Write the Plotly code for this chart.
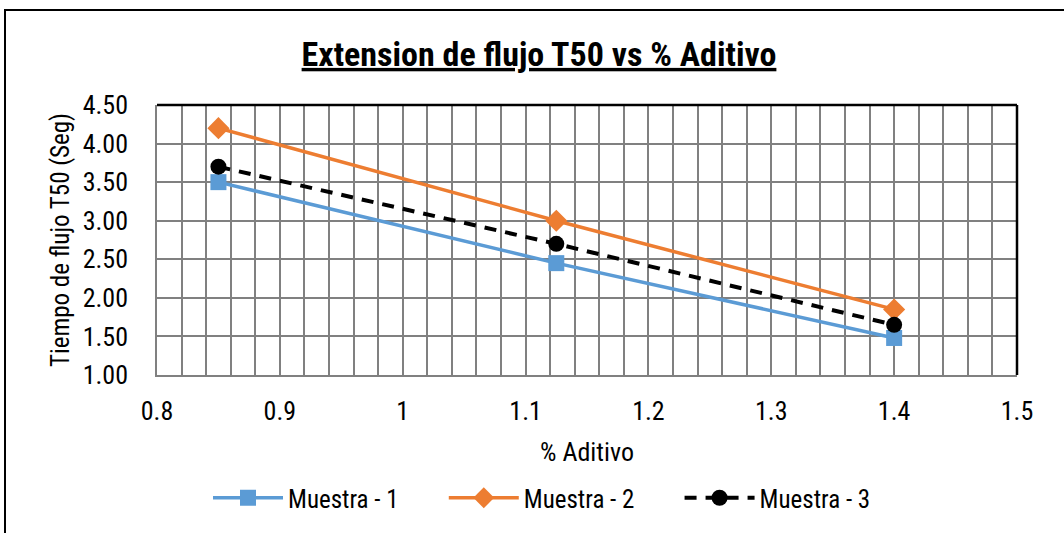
import plotly.graph_objects as go

aditivo = [0.85, 1.125, 1.4]
muestra_1 = [3.50, 2.45, 1.48]
muestra_2 = [4.20, 3.00, 1.85]
muestra_3 = [3.70, 2.70, 1.65]
series_names = ["Muestra - 1", "Muestra - 2", "Muestra - 3"]

FONT = "Roboto Condensed, Liberation Sans Narrow, Arial Narrow, sans-serif"
PAD = "\u00a0" * 7

fig = go.Figure()
fig.add_trace(go.Scatter(x=aditivo, y=muestra_1, name=series_names[0] + PAD, mode="lines+markers",
                         line=dict(color="#5B9BD5", width=3.5),
                         marker=dict(symbol="square", size=16, color="#5B9BD5")))
fig.add_trace(go.Scatter(x=aditivo, y=muestra_2, name=series_names[1] + PAD, mode="lines+markers",
                         line=dict(color="#ED7D31", width=3.5),
                         marker=dict(symbol="diamond", size=17, color="#ED7D31")))
fig.add_trace(go.Scatter(x=aditivo, y=muestra_3, name=series_names[2], mode="lines+markers",
                         line=dict(color="black", width=4, dash="12px,9px"),
                         marker=dict(symbol="circle", size=16, color="black")))

L, R, T, B = 157, 47, 105, 158
W, H = 1064, 533
pw, ph = W - L - R, H - T - B

fig.update_layout(
    width=W, height=H,
    margin=dict(l=L, r=R, t=T, b=B),
    paper_bgcolor="white", plot_bgcolor="white",
    font=dict(family=FONT, size=25, color="black"),
    title=dict(text="<b><u>Extension de flujo T50 vs % Aditivo</u></b>",
               x=539 / W, xanchor="center", y=1 - 54 / H, yanchor="middle",
               font=dict(size=34, family=FONT, color="black")),
    xaxis=dict(range=[0.8, 1.5], tickvals=[0.8, 0.9, 1.0, 1.1, 1.2, 1.3, 1.4, 1.5],
               ticktext=["0.8", "0.9", "1", "1.1", "1.2", "1.3", "1.4", "1.5"],
               tickfont=dict(size=26),
               showgrid=True, gridcolor="#808080", gridwidth=1.5,
               minor=dict(dtick=0.02, showgrid=True, gridcolor="#808080", gridwidth=1.5),
               showline=True, linecolor="#808080", linewidth=1.5,
               zeroline=False, ticks="", ticklabelstandoff=12,
               title=dict(text="% Aditivo", font=dict(size=26), standoff=18)),
    yaxis=dict(range=[1.0, 4.5], tickvals=[1.0, 1.5, 2.0, 2.5, 3.0, 3.5, 4.0, 4.5],
               tickformat=".2f", tickfont=dict(size=26),
               showgrid=True, gridcolor="#808080", gridwidth=1.5,
               showline=True, linecolor="#808080", linewidth=1.5,
               zeroline=False, ticks="", ticklabelstandoff=22,
               title=dict(text="Tiempo de flujo T50 (Seg)", font=dict(size=25), standoff=6)),
    legend=dict(orientation="h", x=(542 - L) / pw, xanchor="center", y=-(498 - 375) / ph,
                yanchor="middle", font=dict(size=25), bgcolor="rgba(0,0,0,0)",
                itemwidth=70, tracegroupgap=0),
    showlegend=True,
)

# plot area top/right black border
fig.add_shape(type="line", xref="paper", yref="paper", x0=0, x1=1, y0=1, y1=1,
              line=dict(color="black", width=2.5))
fig.add_shape(type="line", xref="paper", yref="paper", x0=1, x1=1, y0=0, y1=1,
              line=dict(color="black", width=2.5))
# outer chart border
fig.add_shape(type="rect", xref="paper", yref="paper",
              x0=(5 - L) / pw, x1=(1075 - L) / pw,
              y0=(H - 545 - B) / ph, y1=(H - 10 - B) / ph,
              line=dict(color="black", width=2), fillcolor="rgba(0,0,0,0)", layer="below")

fig.write_html("out.html", config={"displayModeBar": False},
               post_script="document.body.style.margin='0';")
